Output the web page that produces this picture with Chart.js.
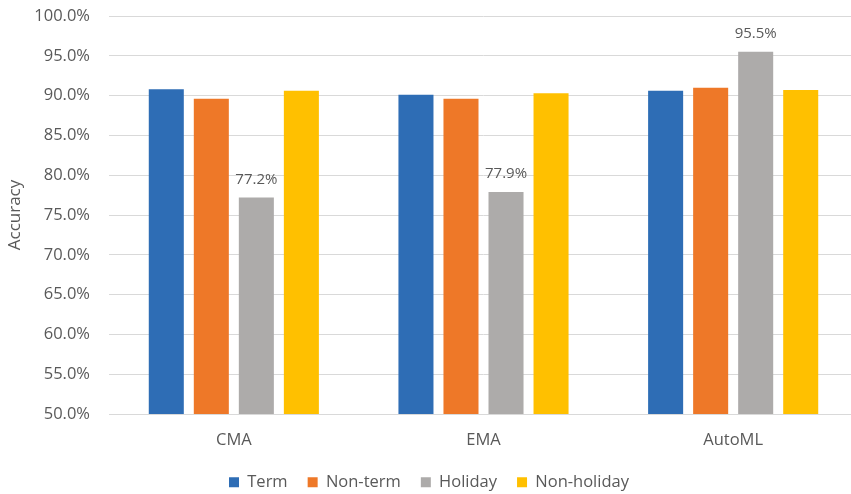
<!DOCTYPE html>
<html>
<head>
<meta charset="utf-8">
<script src="https://cdn.jsdelivr.net/npm/chart.js@4/dist/chart.umd.min.js"></script>
<style>
  html, body { margin: 0; padding: 0; background: #fff; overflow: hidden; }
  #wrap { width: 851px; height: 494px; overflow: hidden; }
  canvas { display: block; }
</style>
</head>
<body>
<div id="wrap"><canvas id="c" width="858" height="494"></canvas></div>
<script>
const categories = ['CMA', 'EMA', 'AutoML'];
const seriesNames = ['Term', 'Non-term', 'Holiday', 'Non-holiday'];
const termAcc = [90.8, 90.1, 90.6];
const nonTermAcc = [89.6, 89.6, 91.0];
const holidayAcc = [77.2, 77.9, 95.5];
const nonHolidayAcc = [90.6, 90.3, 90.7];
const colors = ['#2E6DB5', '#EE7828', '#ADABAA', '#FFC000'];
const labelledSeries = 'Holiday';

const seriesValues = [termAcc, nonTermAcc, holidayAcc, nonHolidayAcc];
const FONT = "'Open Sans', 'DejaVu Sans', sans-serif";
const GREY = '#595959';

const valueLabels = {
  id: 'valueLabels',
  afterDatasetsDraw(chart) {
    const ctx = chart.ctx;
    chart.data.datasets.forEach((ds, i) => {
      if (ds.label !== labelledSeries) return;
      const meta = chart.getDatasetMeta(i);
      meta.data.forEach((bar, j) => {
        ctx.save();
        ctx.font = '15px ' + FONT;
        ctx.fillStyle = GREY;
        ctx.textAlign = 'center';
        ctx.textBaseline = 'middle';
        ctx.fillText(ds.data[j].toFixed(1) + '%', bar.x, bar.y - 18);
        ctx.restore();
      });
    });
  }
};

new Chart(document.getElementById('c'), {
  type: 'bar',
  data: {
    labels: categories,
    datasets: seriesNames.map((name, i) => ({
      label: name,
      data: seriesValues[i],
      backgroundColor: colors[i],
      borderWidth: 0,
      categoryPercentage: 0.7214,
      barPercentage: 0.778
    }))
  },
  options: {
    responsive: false,
    animation: false,
    layout: { padding: { top: 16, left: 0, right: 0, bottom: 0 } },
    plugins: {
      tooltip: { enabled: false },
      legend: {
        position: 'bottom',
        maxHeight: 40,
        labels: {
          boxWidth: 10,
          boxHeight: 10,
          padding: 20,
          color: GREY,
          font: { family: FONT, size: 16.5 }
        }
      }
    },
    scales: {
      x: {
        grid: { display: false, drawTicks: false },
        border: { display: true, color: '#D9D9D9', width: 1 },
        ticks: { color: GREY, padding: 16, font: { family: FONT, size: 16.5 } },
        afterFit(scale) { scale.height = 40; }
      },
      y: {
        min: 50,
        max: 100,
        grid: { color: '#D9D9D9', lineWidth: 1, drawTicks: false },
        border: { display: false },
        ticks: {
          stepSize: 5,
          padding: 19,
          color: GREY,
          font: { family: FONT, size: 16.5 },
          callback: v => v.toFixed(1) + '%'
        },
        title: {
          display: true,
          text: 'Accuracy',
          color: GREY,
          font: { family: FONT, size: 17 },
          padding: { top: 5, bottom: 0 }
        },
        afterFit(scale) {
          scale.width = 109;
          scale.paddingTop = 0;
          scale.paddingBottom = 0;
        }
      }
    }
  },
  plugins: [valueLabels]
});
</script>
</body>
</html>
